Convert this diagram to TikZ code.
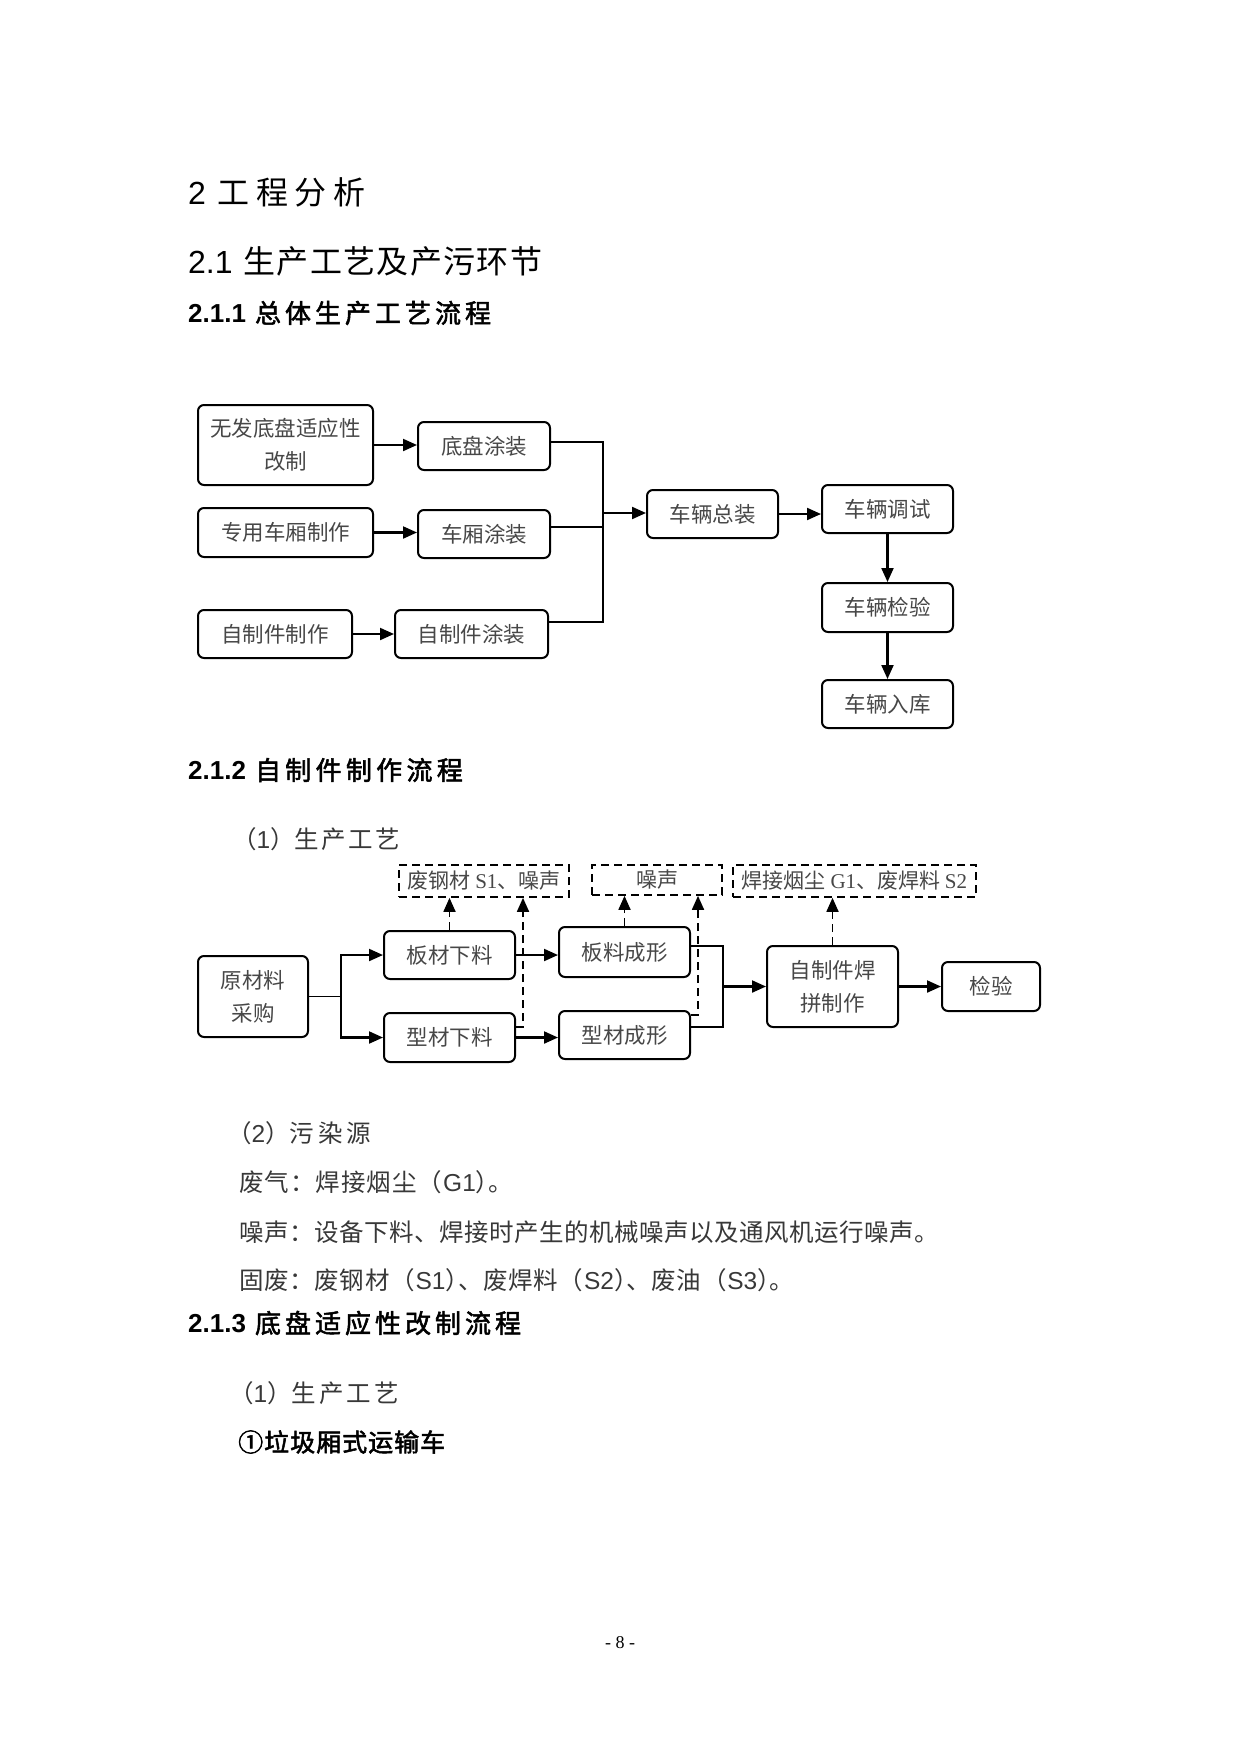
\documentclass[tikz,border=0pt]{standalone}
\usepackage{fontspec}
\setmainfont{Noto Sans CJK SC}
\newfontfamily\heib[FakeBold=2]{Noto Sans CJK SC}
\newfontfamily\tmsfam{Liberation Serif}
\newfontfamily\arlfam{Liberation Sans}
\usetikzlibrary{arrows.meta}
\makeatletter
\def\sptext#1#2{\def\sp@gap{#1}\sp@loop#2\relax}
\def\sp@loop#1{\ifx#1\relax\else#1\hspace{\sp@gap}\expandafter\sp@loop\fi}
\makeatother
\newcommand\tmsf[1]{{\tmsfam #1}}
\newcommand\arlf[1]{{\arlfam #1}}
\newcommand\arlb[1]{{\arlfam\bfseries #1}}
\newcommand\pk{\hspace{-12pt}}
\begin{document}
\begin{tikzpicture}[x=1pt,y=-1pt,
  pbox/.style={draw, line width=2pt, rounded corners=6pt, inner sep=0pt,
    align=center, text=black!72, font=\fontsize{21.5}{33}\selectfont},
  dbox/.style={draw, dashed, dash pattern=on 8pt off 5pt, line width=1.7pt, inner sep=0pt,
    text=black!72, font=\fontsize{21}{25}\selectfont},
  ln/.style={line width=2.1pt},
  thin/.style={line width=1.4pt},
  arr/.style={line width=2.1pt, -{Triangle[length=14pt,width=12pt]}},
  darr/.style={line width=1.8pt, dashed, dash pattern=on 8pt off 5pt, -{Triangle[length=14pt,width=12pt]}},
  hd/.style={anchor=west, inner sep=0pt, text=black},
  bd/.style={anchor=west, inner sep=0pt, text=black!78, font=\fontsize{24.5}{28}\selectfont}]
\useasboundingbox (0,0) rectangle (1241,1754);

% headings
\node[hd, font=\fontsize{32}{36}\selectfont] (h1) at (188,192) {\arlf{2}\hspace{12pt}\sptext{6.5pt}{工程分析}};
\node[hd, font=\fontsize{32}{36}\selectfont] (h2) at (188,261) {\arlf{2.1}\hspace{11pt}\sptext{1.3pt}{生产工艺及产污环节}};
\node[hd, font=\heib\fontsize{26}{30}\selectfont] (h3) at (188,313) {\arlb{2.1.1}\hspace{9pt}\sptext{4pt}{总体生产工艺流程}};

% diagram 1
\node[pbox, minimum width=175pt, minimum height=80pt] (A) at (285.5,445) {无发底盘适应性\\改制};
\node[pbox, minimum width=132pt, minimum height=48pt] (B) at (484,446) {底盘涂装};
\node[pbox, minimum width=175pt, minimum height=49pt] (C) at (285.5,532.5) {专用车厢制作};
\node[pbox, minimum width=132pt, minimum height=48pt] (D) at (484,534) {车厢涂装};
\node[pbox, minimum width=154pt, minimum height=48pt] (E) at (275,634) {自制件制作};
\node[pbox, minimum width=153pt, minimum height=48pt] (F) at (471.5,634) {自制件涂装};
\node[pbox, minimum width=131pt, minimum height=48pt] (G) at (712.5,514) {车辆总装};
\node[pbox, minimum width=131pt, minimum height=48pt] (H) at (887.5,509) {车辆调试};
\node[pbox, minimum width=131pt, minimum height=49pt] (I) at (887.5,607.5) {车辆检验};
\node[pbox, minimum width=131pt, minimum height=48pt] (J) at (887.5,704) {车辆入库};
\coordinate (bus) at (603,513);

\draw[arr] (A.east) -- (A.east -| B.west);
\draw[arr] (C.east) -- (C.east -| D.west);
\draw[arr] (E.east) -- (E.east -| F.west);
\draw[ln] ([yshift=4pt]B.east) -| (bus);
\draw[ln] ([yshift=7pt]D.east) -| (bus);
\draw[thin] ([yshift=12pt]F.east) -| (bus);
\draw[arr] (bus) -- (bus -| G.west);
\draw[arr] (G.east) -- (G.east -| H.west);
\draw[arr] (H.south) -- (I.north);
\draw[arr] (I.south) -- (J.north);

% section 2.1.2
\node[hd, font=\heib\fontsize{26}{30}\selectfont] (h4) at (188,770) {\arlb{2.1.2}\hspace{9pt}\sptext{4.3pt}{自制件制作流程}};
\node[bd] (t1) at (232,839) {（\arlf{1}）\sptext{2.5pt}{生产工艺}};

% diagram 2
\node[pbox, minimum width=110pt, minimum height=81pt] (R) at (253,996.5) {原材料\\采购};
\node[pbox, minimum width=131pt, minimum height=48pt] (P1) at (449.5,955) {板材下料};
\node[pbox, minimum width=131pt, minimum height=49pt] (Q1) at (449.5,1037.5) {型材下料};
\node[pbox, minimum width=131pt, minimum height=50pt] (P2) at (624.5,952) {板料成形};
\node[pbox, minimum width=131pt, minimum height=48pt] (Q2) at (624.5,1035) {型材成形};
\node[pbox, minimum width=131pt, minimum height=81pt] (W) at (832.5,986.5) {自制件焊\\拼制作};
\node[pbox, minimum width=98pt, minimum height=49pt] (K) at (991,986.5) {检验};
\node[dbox, minimum width=170pt, minimum height=32pt] (D1) at (484,881) {废钢材 \tmsf{S1}、噪声};
\node[dbox, minimum width=130pt, minimum height=30pt] (D2) at (657,880) {噪声};
\node[dbox, minimum width=243pt, minimum height=32pt] (D3) at (854.5,881) {焊接烟尘 \tmsf{G1}、废焊料 \tmsf{S2}};
\coordinate (split) at (341,996.5);
\coordinate (mg) at (723,986.5);

\draw[thin] (R.east) -- (split);
\draw[arr] (split) |- (P1.west);
\draw[arr] (split) |- (Q1.west);
\draw[arr] (P1.east) -- (P1.east -| P2.west);
\draw[arr] (Q1.east) -- (Q1.east -| Q2.west);
\draw[ln] ([yshift=6pt]P2.east) -| (mg);
\draw[ln] ([yshift=8pt]Q2.east) -| (mg);
\draw[arr] (mg) -- (mg -| W.west);
\draw[arr] (W.east) -- (W.east -| K.west);
\draw[darr] (P1.north) -- (P1.north |- D1.south);
\draw[darr] ([yshift=10.5pt]Q1.east) -| ([xshift=39pt]D1.south);
\draw[darr] (P2.north) -- (P2.north |- D2.south);
\draw[darr] ([yshift=20pt]Q2.east) -| ([xshift=41pt]D2.south);
\draw[darr] (W.north) -- (W.north |- D3.south);

% pollution text
\node[bd] (t2) at (227,1133) {（\arlf{2}）\sptext{4pt}{污染源}};
\node[bd] (t3) at (239,1182) {\sptext{1pt}{废气：焊接烟尘（}\arlf{G1}）\pk 。};
\node[bd] (t4) at (239,1232) {\sptext{0.5pt}{噪声：设备下料、焊接时产生的机械噪声以及通风机运行噪声。}};
\node[bd] (t5) at (239,1280) {\sptext{0.7pt}{固废：废钢材（}\arlf{S1}）\pk\sptext{0.7pt}{、废焊料（}\arlf{S2}）\pk\sptext{0.7pt}{、废油（}\arlf{S3}）\pk 。};

% section 2.1.3
\node[hd, font=\heib\fontsize{26}{30}\selectfont] (h5) at (188,1323) {\arlb{2.1.3}\hspace{9pt}\sptext{4pt}{底盘适应性改制流程}};
\node[bd] (t6) at (229,1393) {（\arlf{1}）\sptext{3pt}{生产工艺}};
\node[hd, font=\heib\fontsize{25}{29}\selectfont] (t7) at (238,1442) {\sptext{1pt}{①垃圾厢式运输车}};

% page number
\node[inner sep=0pt, font=\tmsfam\fontsize{18}{20}\selectfont] (pg) at (620,1643) {- 8 -};
\end{tikzpicture}
\end{document}
